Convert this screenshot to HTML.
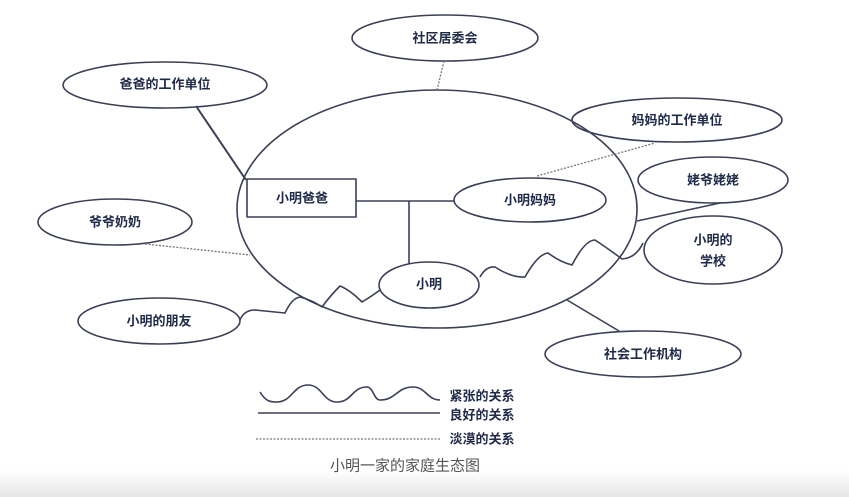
<!DOCTYPE html>
<html><head><meta charset="utf-8"><style>
html,body{margin:0;padding:0;background:#fff;}
svg{display:block}
text{font-family:"Liberation Sans","Noto Sans CJK SC",sans-serif;font-weight:bold;font-size:13px;fill:#1f2a48;text-anchor:middle;dominant-baseline:central}
</style></head><body>
<svg width="849" height="497" viewBox="0 0 849 497">
<defs><linearGradient id="g" x1="0" y1="0" x2="0" y2="1"><stop offset="0" stop-color="#fff"/><stop offset="1" stop-color="#e6e6e6"/></linearGradient></defs>
<rect x="0" y="470" width="849" height="27" fill="url(#g)"/>
<g fill="none" stroke="#3a3f55" stroke-width="1.6" stroke-linejoin="round">
<ellipse cx="437" cy="209" rx="200" ry="119"/>
<ellipse cx="445" cy="38" rx="93" ry="23"/>
<ellipse cx="165" cy="85" rx="102" ry="23"/>
<ellipse cx="677" cy="120" rx="105" ry="22"/>
<ellipse cx="713" cy="180" rx="75" ry="23"/>
<ellipse cx="713" cy="250" rx="69" ry="34"/>
<ellipse cx="643" cy="354" rx="98" ry="23"/>
<ellipse cx="115" cy="222" rx="77" ry="23"/>
<ellipse cx="159" cy="321" rx="81" ry="23"/>
<ellipse cx="530" cy="200" rx="76" ry="22"/>
<ellipse cx="429" cy="285" rx="50" ry="23"/>
<rect x="247" y="179" width="109" height="38"/>
<line x1="196" y1="106" x2="246" y2="180" stroke-width="2"/>
<line x1="356" y1="201" x2="454" y2="201"/>
<line x1="409" y1="201" x2="409" y2="264"/>
<line x1="637" y1="221" x2="720" y2="203"/>
<line x1="567" y1="300" x2="619" y2="331"/>
<path d="M240,320 Q244,310 255,310 Q275,312 285,313 Q292,298 300,297 Q312,300 322,307 Q330,296 340,286 Q350,290 362,302 Q372,296 380,290"/>
<path d="M480,277 Q486,266 495,267 Q512,278 525,277 Q538,254 548,253 Q560,262 572,265 Q585,240 595,240 Q610,250 622,259 Q636,258 643,243"/>
<path d="M260,392 C266,402 271,402 277,402 C292,402 293,385 308,385 C322,385 323,402 337,402 C352,402 352,387 367,387 C373,387 374,400 380,400 C396,400 397,387 413,387 C426,387 427,400 440,400"/>
<line x1="258" y1="413" x2="440" y2="413"/>
</g>
<g fill="none" stroke="#777" stroke-width="1.3" stroke-dasharray="2,1.5">
<line x1="444" y1="61" x2="437" y2="90"/>
<line x1="537" y1="176" x2="655" y2="143"/>
<line x1="145" y1="244" x2="250" y2="255"/>
<line x1="256" y1="439" x2="440" y2="439"/>
</g>
<text x="445" y="38">社区居委会</text>
<text x="165" y="84">爸爸的工作单位</text>
<text x="677" y="120">妈妈的工作单位</text>
<text x="713" y="180">姥爷姥姥</text>
<text x="713" y="240">小明的</text>
<text x="713" y="261">学校</text>
<text x="643" y="354">社会工作机构</text>
<text x="115" y="222">爷爷奶奶</text>
<text x="159" y="321">小明的朋友</text>
<text x="530" y="200">小明妈妈</text>
<text x="429" y="284">小明</text>
<text x="302" y="198">小明爸爸</text>
<text x="482" y="396">紧张的关系</text>
<text x="482" y="415">良好的关系</text>
<text x="482" y="439">淡漠的关系</text>
<text x="405" y="466" style="font-weight:normal;font-size:15px;fill:#555">小明一家的家庭生态图</text>
</svg>
</body></html>
